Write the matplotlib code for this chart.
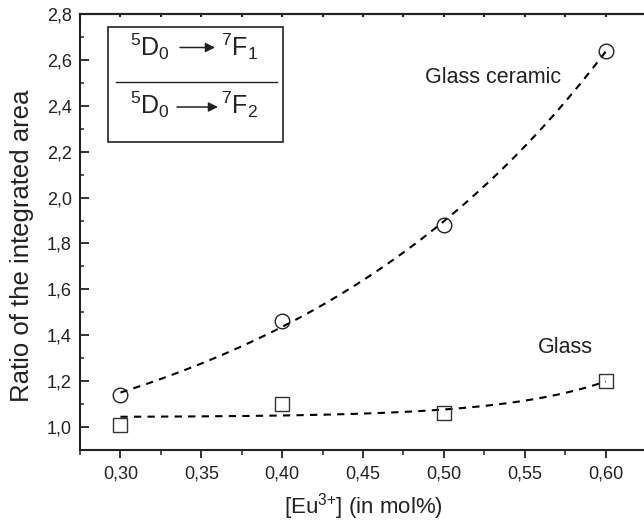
import numpy as np
import matplotlib
matplotlib.use("Agg")
import matplotlib.pyplot as plt
from matplotlib.ticker import MultipleLocator, FuncFormatter
from matplotlib.patches import Rectangle
from matplotlib.lines import Line2D

plt.rcParams['font.family'] = ['Liberation Sans', 'DejaVu Sans']
plt.rcParams['mathtext.fontset'] = 'custom'
plt.rcParams['mathtext.rm'] = 'Liberation Sans'
plt.rcParams['mathtext.it'] = 'Liberation Sans:italic'
plt.rcParams['mathtext.default'] = 'regular'

# Eu3+ concentration (mol%)
eu = np.array([0.30, 0.40, 0.50, 0.60])
# ratio 5D0->7F1 / 5D0->7F2
glass_ceramic = np.array([1.14, 1.46, 1.88, 2.64])
glass = np.array([1.01, 1.10, 1.06, 1.20])


def exp_grow_fit(x, y):
    # y = y0 + A*exp(x/t), least squares over t
    best = None
    for t in np.linspace(0.02, 1.5, 3000):
        M = np.column_stack([np.ones_like(x), np.exp(x / t)])
        coef = np.linalg.lstsq(M, y, rcond=None)[0]
        err = np.sum((M @ coef - y) ** 2)
        if coef[1] > 0 and (best is None or err < best[0]):
            best = (err, coef[0], coef[1], t)
    return best[1:]


def comma(v, pos, nd):
    return f"{v:.{nd}f}".replace(".", ",")


W, H = 644, 526
fig = plt.figure(figsize=(W / 100, H / 100), dpi=100)
ax = fig.add_axes([80 / W, 1 - 450 / H, 566 / W, 436 / H])

xs = np.linspace(0.30, 0.60, 200)
for y in (glass_ceramic, glass):
    y0, A, t = exp_grow_fit(eu, y)
    ax.plot(xs, y0 + A * np.exp(xs / t), color='black', lw=1.5,
            dashes=(3.5, 3), zorder=2)

ax.plot(eu, glass_ceramic, 'o', ms=10.5, mfc='none', mec='#222222', mew=1.0,
        zorder=3)
ax.plot(eu, glass, 's', ms=10, mfc='none', mec='#333333', mew=1.0, zorder=3)

ax.set_xlim(0.275, 0.625)
ax.set_ylim(0.9, 2.8)

ax.xaxis.set_major_locator(MultipleLocator(0.05))
ax.xaxis.set_minor_locator(MultipleLocator(0.025))
ax.yaxis.set_major_locator(MultipleLocator(0.2))
ax.yaxis.set_minor_locator(MultipleLocator(0.1))
ax.xaxis.set_major_formatter(FuncFormatter(lambda v, p: comma(v, p, 2)))
ax.yaxis.set_major_formatter(FuncFormatter(lambda v, p: comma(v, p, 1)))

ax.tick_params(axis='x', which='major', direction='out', length=6, width=1.3,
               labelsize=13, colors='#222222', pad=5)
ax.tick_params(axis='x', which='minor', direction='out', length=3.5,
               width=1.1, colors='#222222')
ax.tick_params(axis='y', which='major', direction='in', length=6.5,
               width=1.3, labelsize=13, colors='#222222', pad=6)
ax.tick_params(axis='y', which='minor', direction='in', length=3,
               width=1.1, colors='#222222')
ax.spines['right'].set_visible(False)
for s in ('left', 'bottom', 'top'):
    ax.spines[s].set_linewidth(1.5)
    ax.spines[s].set_color('#222222')

top = ax.secondary_xaxis('top')
top.xaxis.set_major_locator(MultipleLocator(0.025))
top.tick_params(direction='in', length=2, width=1.5, labeltop=False,
                colors='#222222')
top.spines['top'].set_linewidth(1.5)
top.spines['top'].set_color('#222222')

ax.set_xlabel("[Eu$^{3{+}}$] (in mol%)", fontsize=16, color='#222222',
              labelpad=6)
ax.set_ylabel("Ratio of the integrated area", fontsize=18.5,
              color='#222222')
ax.yaxis.set_label_coords(-0.082, 0.468)

ax.text(0.4885, 2.523, "Glass ceramic", fontsize=15.5, va='center',
        ha='left', color='#222222')
ax.text(0.558, 1.345, "Glass", fontsize=15.5, va='center', ha='left',
        color='#222222')


# ratio box, placed in pixel coordinates from the top-left corner
def px(x, y):
    return (x / W, 1 - y / H)


bx0, by0 = px(108, 142)
bx1, by1 = px(283, 27)
fig.patches.append(Rectangle((bx0, by0), bx1 - bx0, by1 - by0,
                             transform=fig.transFigure, fill=False,
                             ec='#222222', lw=1.2))
lx0, ly = px(116, 82)
lx1, _ = px(277, 82)
fig.lines.append(Line2D([lx0, lx1], [ly, ly], transform=fig.transFigure,
                        color='#222222', lw=1.0))

for base, ay, ax0, ax1, sub in [(56, 47.5, 180, 215, "1"),
                                (114, 107, 177, 218, "2")]:
    fig.text(*px(170, base), r"$^{5}$D$_{0}$", fontsize=18, ha='right',
             va='baseline', color='#222222')
    fig.text(*px(221, base), r"$^{7}$F$_{%s}$" % sub, fontsize=18,
             ha='left', va='baseline', color='#222222')
    ax.annotate("", xy=px(ax1, ay), xytext=px(ax0, ay),
                xycoords='figure fraction', textcoords='figure fraction',
                arrowprops=dict(arrowstyle='-|>', color='#222222', lw=1.1,
                                mutation_scale=14, shrinkA=0, shrinkB=0))

fig.savefig("out.png", dpi=100)
